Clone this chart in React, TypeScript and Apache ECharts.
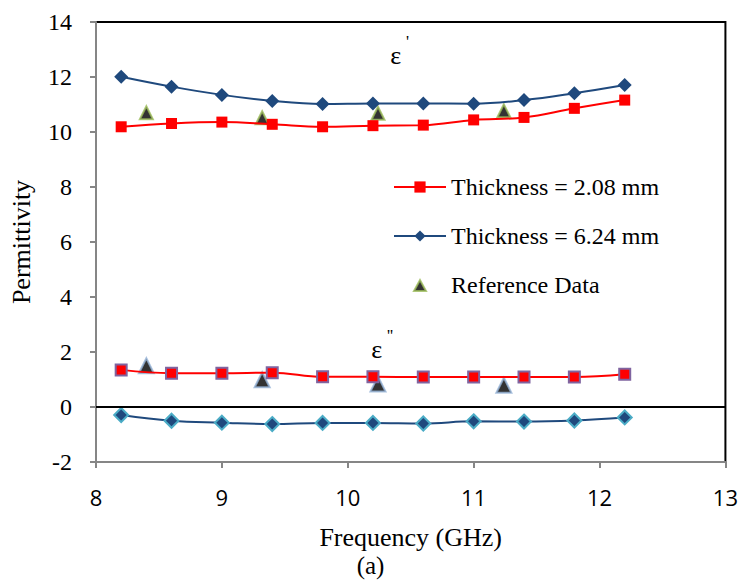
import React, { useEffect, useRef } from "react";
import * as echarts from "echarts";

const freq = [8.2, 8.6, 9.0, 9.4, 9.8, 10.2, 10.6, 11.0, 11.4, 11.8, 12.2];
const epsReal208 = [10.19, 10.31, 10.36, 10.28, 10.19, 10.23, 10.25, 10.44, 10.53, 10.86, 11.16];
const epsReal624 = [12.01, 11.65, 11.35, 11.13, 11.02, 11.04, 11.04, 11.03, 11.16, 11.41, 11.71];
const epsImag208 = [1.35, 1.23, 1.23, 1.25, 1.1, 1.1, 1.09, 1.09, 1.09, 1.09, 1.19];
const epsImag624 = [-0.29, -0.5, -0.57, -0.62, -0.58, -0.58, -0.6, -0.52, -0.53, -0.49, -0.38];
const refFreq = [8.4, 9.32, 10.24, 11.24];
const refReal = [10.7, 10.52, 10.68, 10.77];
const refImag = [1.5, 0.99, 0.84, 0.79];

const NAME_208 = "Thickness = 2.08 mm";
const NAME_624 = "Thickness = 6.24 mm";
const NAME_REF = "Reference Data";

const SERIF = "'Liberation Serif', 'Times New Roman', serif";
const SANS = "'Open Sans', 'Noto Sans', sans-serif";

const pairs = (xs: number[], ys: number[]) => xs.map((x, i) => [x, ys[i]]);

export default function App() {
  const ref = useRef<HTMLDivElement>(null);
  useEffect(() => {
    document.body.style.margin = "0";
    const chart = echarts.init(ref.current!, null, { renderer: "svg" });
    const option: any = {
      animation: false,
      backgroundColor: "#ffffff",
      grid: {
        left: 96,
        right: 13,
        top: 22,
        bottom: 119,
        show: true,
        borderColor: "#000000",
        borderWidth: 2,
        backgroundColor: "transparent",
      },
      legend: {
        orient: "vertical",
        left: 388,
        top: 170,
        itemWidth: 52,
        itemHeight: 14,
        itemGap: 25,
        data: [
          NAME_208,
          NAME_624,
          {
            name: NAME_REF,
            icon: "path://M0,0 M52,14 M20,13 L26,2 L32,13 Z",
            itemStyle: { color: "#000", borderColor: "#9bbb59", borderWidth: 2 },
          },
        ],
        textStyle: { fontFamily: SERIF, fontSize: 24, color: "#000", lineHeight: 24 },
        selectedMode: false,
      },
      xAxis: {
        type: "value",
        min: 8,
        max: 13,
        interval: 1,
        name: "Frequency (GHz)",
        nameLocation: "middle",
        nameGap: 62,
        nameTextStyle: { fontFamily: SERIF, fontSize: 26, color: "#000" },
        axisLine: { onZero: false, lineStyle: { color: "#868686", width: 2 } },
        axisTick: { show: true, inside: false, length: 6, lineStyle: { color: "#868686", width: 2 } },
        axisLabel: { fontFamily: SANS, fontSize: 22, color: "#000", margin: 24 },
        splitLine: { show: false },
      },
      yAxis: {
        type: "value",
        min: -2,
        max: 14,
        interval: 2,
        name: "Permittivity",
        nameLocation: "middle",
        nameGap: 62,
        nameTextStyle: { fontFamily: SERIF, fontSize: 26, color: "#000" },
        axisLine: { show: true, lineStyle: { color: "#868686", width: 2 } },
        axisTick: { show: true, inside: false, length: 6, lineStyle: { color: "#868686", width: 2 } },
        axisLabel: { fontFamily: SERIF, fontSize: 24, color: "#000", margin: 24 },
        splitLine: { show: false },
      },
      graphic: [
        {
          type: "text",
          left: "center",
          top: 553,
          style: { text: "(a)", font: `25px ${SERIF}`, fill: "#000" },
        },
      ],
      series: [
        {
          name: NAME_208,
          type: "line",
          data: pairs(freq, epsReal208),
          smooth: 0.4,
          symbol: "rect",
          symbolSize: 11,
          lineStyle: { color: "#ff0000", width: 2 },
          itemStyle: { color: "#ff0000" },
          markLine: {
            silent: true,
            symbol: "none",
            label: { show: false },
            lineStyle: { color: "#000", width: 2, type: "solid" },
            data: [{ yAxis: 0 }],
          },
          markPoint: {
            symbol: "circle",
            symbolSize: 0,
            label: { show: true, position: "inside", color: "#000", fontFamily: SERIF },
            data: [
              { coord: [10.38, 12.8], value: 0, label: { formatter: "ε", fontSize: 26 } },
              { coord: [10.475, 13.3], value: 0, label: { formatter: "'", fontSize: 17 } },
              { coord: [10.23, 2.1], value: 0, label: { formatter: "ε", fontSize: 26 } },
              { coord: [10.335, 2.6], value: 0, label: { formatter: "''", fontSize: 17 } },
            ],
          },
        },
        {
          name: NAME_624,
          type: "line",
          data: pairs(freq, epsReal624),
          smooth: 0.4,
          symbol: "diamond",
          symbolSize: 14,
          lineStyle: { color: "#1f497d", width: 2 },
          itemStyle: { color: "#1f497d" },
        },
        {
          name: NAME_208,
          type: "line",
          data: pairs(freq, epsImag208),
          smooth: 0.4,
          symbol: "rect",
          symbolSize: 11,
          lineStyle: { color: "#ff0000", width: 2 },
          itemStyle: { color: "#ff0000", borderColor: "#7f64a0", borderWidth: 2 },
        },
        {
          name: NAME_624,
          type: "line",
          data: pairs(freq, epsImag624),
          smooth: 0.4,
          symbol: "diamond",
          symbolSize: 14,
          lineStyle: { color: "#1f497d", width: 2 },
          itemStyle: { color: "#1f497d", borderColor: "#4bacc6", borderWidth: 2 },
        },
        {
          name: NAME_REF,
          type: "scatter",
          data: pairs(refFreq, refReal),
          symbol: "triangle",
          symbolSize: 13,
          itemStyle: { color: "#000", borderColor: "#9bbb59", borderWidth: 2 },
        },
        {
          name: NAME_REF,
          type: "scatter",
          data: pairs(refFreq, refImag),
          symbol: "triangle",
          symbolSize: 15,
          itemStyle: { color: "#000", borderColor: "#95b3d7", borderWidth: 2 },
        },
      ],
    };
    chart.setOption(option);
    return () => chart.dispose();
  }, []);
  return <div ref={ref} style={{ width: 741, height: 581 }} />;
}
